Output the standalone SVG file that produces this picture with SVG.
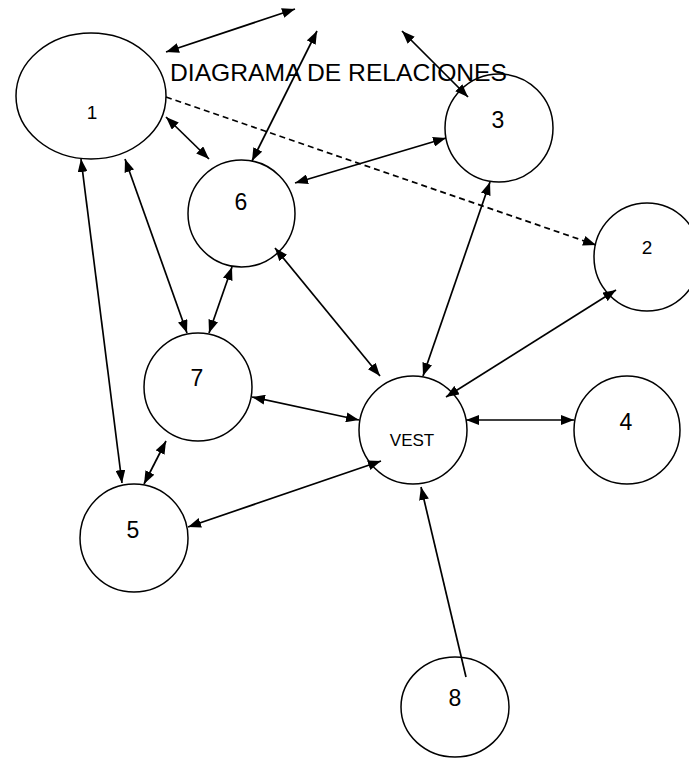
<svg xmlns="http://www.w3.org/2000/svg" width="689" height="758" viewBox="0 0 689 758">
<defs>
<style>
.node ellipse{fill:none;stroke:#000;stroke-width:1.5}
.lbl{font-family:"Liberation Sans",Arial,sans-serif;fill:#000;text-anchor:middle}
.big{font-size:23px}
.small{font-size:19px}
.edges line{stroke:#000;stroke-width:1.7}
.dbl{marker-start:url(#ah);marker-end:url(#ah)}
.one{marker-end:url(#ah)}
.dash{stroke-dasharray:6 4}
</style>
<marker id="ah" viewBox="0 0 13 10" refX="13" refY="5" markerWidth="13" markerHeight="10" markerUnits="userSpaceOnUse" orient="auto-start-reverse">
<path d="M0,0 L13,5 L0,10 z" fill="#000"/>
</marker>
</defs>
<rect width="689" height="758" fill="#fff"/>
<text x="170" y="81" font-family="'Liberation Sans',Arial,sans-serif" font-size="24" textLength="337" lengthAdjust="spacingAndGlyphs">DIAGRAMA DE RELACIONES</text>
<g id="connectors" class="edges">
<line class="dbl" x1="166" y1="52" x2="295" y2="9"/>
<line class="dbl" x1="252" y1="161" x2="317" y2="31"/>
<line class="dbl" x1="402" y1="31" x2="468" y2="97"/>
<line class="dbl" x1="166" y1="117" x2="209" y2="159"/>
<line class="dbl" x1="295" y1="183" x2="446" y2="138"/>
<line class="one dash" x1="166" y1="97" x2="596" y2="245"/>
<line class="dbl" x1="490" y1="182" x2="423" y2="376"/>
<line class="dbl" x1="81" y1="159" x2="122" y2="483"/>
<line class="dbl" x1="125" y1="159" x2="187" y2="333"/>
<line class="dbl" x1="232" y1="267" x2="209" y2="333"/>
<line class="dbl" x1="275" y1="248" x2="380" y2="376"/>
<line class="dbl" x1="616" y1="290" x2="446" y2="397"/>
<line class="dbl" x1="252" y1="397" x2="359" y2="420"/>
<line class="dbl" x1="466" y1="420" x2="574" y2="420"/>
<line class="dbl" x1="166" y1="441" x2="144" y2="484"/>
<line class="dbl" x1="188" y1="527" x2="381" y2="461"/>
<line class="one" x1="466" y1="677" x2="421" y2="487"/>
</g>
<g id="n1" class="node"><ellipse cx="91" cy="96" rx="75" ry="63"/><text class="lbl small" x="92" y="119">1</text></g>
<g id="n3" class="node"><ellipse cx="499" cy="128" rx="54" ry="54"/><text class="lbl big" x="498" y="128">3</text></g>
<g id="n6" class="node"><ellipse cx="241.5" cy="213.5" rx="53.5" ry="53.5"/><text class="lbl big" x="241" y="210">6</text></g>
<g id="n2" class="node"><ellipse cx="647" cy="257" rx="53" ry="54"/><text class="lbl small" x="647" y="254">2</text></g>
<g id="n7" class="node"><ellipse cx="198" cy="387" rx="54" ry="54"/><text class="lbl big" x="197" y="386">7</text></g>
<g id="vest" class="node"><ellipse cx="413" cy="430" rx="54" ry="54"/><text class="lbl" x="412" y="446" font-size="17">VEST</text></g>
<g id="n4" class="node"><ellipse cx="627" cy="430" rx="53" ry="54"/><text class="lbl big" x="626" y="430">4</text></g>
<g id="n5" class="node"><ellipse cx="134" cy="538" rx="54" ry="54"/><text class="lbl big" x="133" y="538">5</text></g>
<g id="n8" class="node"><ellipse cx="455" cy="707" rx="54" ry="50"/><text class="lbl big" x="455" y="706">8</text></g>
</svg>
